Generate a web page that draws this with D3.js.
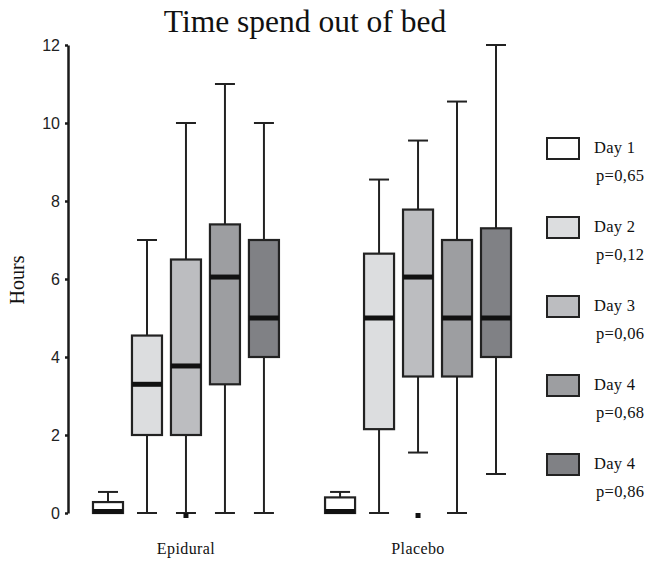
<!DOCTYPE html>
<html lang="en">
  <head>
    <meta charset="UTF-8" />
    <script src="https://d3js.org/d3.v7.min.js"></script>
    <title>Time spend out of bed</title>
    <style>
      body {
        margin: 0;
        background: #fff;
      }
      .axis path,
      .axis line {
        fill: none;
        stroke: #1a1a1a;
        stroke-width: 2.5;
      }
      .axis text {
        font-family: 'Liberation Sans', Arial, sans-serif;
        font-size: 16px;
        fill: #222;
      }
    </style>
  </head>
  <body>
    <script>
      // data: [lower whisker, Q1, median, Q3, upper whisker] per day
      var groups = ['Epidural', 'Placebo']
      var days = ['Day 1', 'Day 2', 'Day 3', 'Day 4', 'Day 5']
      var epiduralStats = [
        [0, 0, 0, 0.28, 0.54],
        [0, 2, 3.3, 4.55, 7],
        [0, 2, 3.77, 6.5, 10],
        [0, 3.3, 6.05, 7.4, 11],
        [0, 4, 5, 7, 10]
      ]
      var placeboStats = [
        [0, 0, 0, 0.4, 0.54],
        [0, 2.15, 5, 6.65, 8.55],
        [1.55, 3.5, 6.05, 7.78, 9.55],
        [0, 3.5, 5, 7, 10.55],
        [1, 4, 5, 7.3, 12]
      ]
      // outliers: [group, day index, value]
      var outliers = [
        ['Epidural', 2, 0],
        ['Placebo', 2, 0]
      ]
      var legendLabels = ['Day 1', 'Day 2', 'Day 3', 'Day 4', 'Day 4']
      var pValues = ['p=0,65', 'p=0,12', 'p=0,06', 'p=0,68', 'p=0,86']
      var yTicks = [0, 2, 4, 6, 8, 10, 12]
      var colors = ['#ffffff', '#dcdddf', '#bcbdc0', '#9d9ea1', '#808185']

      var width = 645
      var height = 561

      var svg = d3
        .select('body')
        .append('svg')
        .attr('width', width)
        .attr('height', height)

      var yScale = d3.scaleLinear().domain([0, 12]).range([513, 45])

      var xGroup = d3
        .scaleBand()
        .domain(groups)
        .range([88.5, 515.5])
        .paddingInner(0.16)

      var xDay = d3
        .scaleBand()
        .domain(d3.range(days.length))
        .range([0, xGroup.bandwidth()])
        .paddingInner(0.23)
        .paddingOuter(0.115)

      // title
      svg
        .append('text')
        .attr('x', 305)
        .attr('y', 32)
        .attr('text-anchor', 'middle')
        .attr('font-family', "'Liberation Serif', 'Times New Roman', serif")
        .attr('font-size', 31.5)
        .attr('fill', '#111')
        .text('Time spend out of bed')

      // y axis
      var yAxis = d3
        .axisLeft(yScale)
        .tickValues(yTicks)
        .tickSize(3)
        .tickSizeOuter(0)
        .tickPadding(5)

      svg
        .append('g')
        .attr('class', 'axis')
        .attr('transform', 'translate(68,0)')
        .call(yAxis)

      svg
        .append('text')
        .attr('transform', 'translate(24,280) rotate(-90)')
        .attr('text-anchor', 'middle')
        .attr('font-family', "'Liberation Serif', 'Times New Roman', serif")
        .attr('font-size', 20)
        .attr('fill', '#111')
        .text('Hours')

      // boxes
      var allStats = { Epidural: epiduralStats, Placebo: placeboStats }
      var capW = 20

      groups.forEach(function (g) {
        var gx = xGroup(g)
        var box = svg
          .append('g')
          .selectAll('g')
          .data(allStats[g])
          .enter()
          .append('g')
          .attr('transform', function (d, i) {
            return 'translate(' + (gx + xDay(i)) + ',0)'
          })

        var bw = xDay.bandwidth()

        // whiskers
        box
          .append('line')
          .attr('x1', bw / 2)
          .attr('x2', bw / 2)
          .attr('y1', function (d) {
            return yScale(d[3])
          })
          .attr('y2', function (d) {
            return yScale(d[4])
          })
          .attr('stroke', '#222')
          .attr('stroke-width', 2)

        box
          .filter(function (d) {
            return d[0] < d[1]
          })
          .append('line')
          .attr('x1', bw / 2)
          .attr('x2', bw / 2)
          .attr('y1', function (d) {
            return yScale(d[0])
          })
          .attr('y2', function (d) {
            return yScale(d[1])
          })
          .attr('stroke', '#222')
          .attr('stroke-width', 2)

        box
          .append('line')
          .attr('x1', bw / 2 - capW / 2)
          .attr('x2', bw / 2 + capW / 2)
          .attr('y1', function (d) {
            return yScale(d[4])
          })
          .attr('y2', function (d) {
            return yScale(d[4])
          })
          .attr('stroke', '#222')
          .attr('stroke-width', 2)

        box
          .filter(function (d) {
            return d[0] < d[1]
          })
          .append('line')
          .attr('x1', bw / 2 - capW / 2)
          .attr('x2', bw / 2 + capW / 2)
          .attr('y1', function (d) {
            return yScale(d[0])
          })
          .attr('y2', function (d) {
            return yScale(d[0])
          })
          .attr('stroke', '#222')
          .attr('stroke-width', 2)

        box
          .append('rect')
          .attr('x', 0)
          .attr('width', bw)
          .attr('y', function (d) {
            return yScale(d[3])
          })
          .attr('height', function (d) {
            return yScale(d[1]) - yScale(d[3])
          })
          .attr('fill', function (d, i) {
            return colors[i]
          })
          .attr('stroke', '#222')
          .attr('stroke-width', 2.2)

        box
          .append('line')
          .attr('x1', 0)
          .attr('x2', bw)
          .attr('y1', function (d) {
            return yScale(d[2]) - (d[2] === d[1] ? 1.5 : 0)
          })
          .attr('y2', function (d) {
            return yScale(d[2]) - (d[2] === d[1] ? 1.5 : 0)
          })
          .attr('stroke', '#111')
          .attr('stroke-width', 5)

        svg
          .append('text')
          .attr('x', gx + xGroup.bandwidth() / 2)
          .attr('y', 554)
          .attr('text-anchor', 'middle')
          .attr('font-family', "'Liberation Serif', 'Times New Roman', serif")
          .attr('font-size', 16)
          .attr('letter-spacing', 0.4)
          .attr('fill', '#111')
          .text(g)
      })

      // outliers
      svg
        .selectAll('rect.outlier')
        .data(outliers)
        .enter()
        .append('rect')
        .attr('class', 'outlier')
        .attr('x', function (d) {
          return xGroup(d[0]) + xDay(d[1]) + xDay.bandwidth() / 2 - 2.5
        })
        .attr('y', function (d) {
          return yScale(d[2])
        })
        .attr('width', 5)
        .attr('height', 5)
        .attr('fill', '#111')

      // legend
      var legend = svg
        .selectAll('g.legend')
        .data(legendLabels)
        .enter()
        .append('g')
        .attr('class', 'legend')
        .attr('transform', function (d, i) {
          return 'translate(547,' + (138 + i * 79) + ')'
        })

      legend
        .append('rect')
        .attr('width', 32)
        .attr('height', 21)
        .attr('fill', function (d, i) {
          return colors[i]
        })
        .attr('stroke', '#222')
        .attr('stroke-width', 2)

      legend
        .append('text')
        .attr('x', 47)
        .attr('y', 15)
        .attr('font-family', "'Liberation Serif', 'Times New Roman', serif")
        .attr('font-size', 16.5)
        .attr('letter-spacing', 0.3)
        .attr('fill', '#111')
        .text(function (d) {
          return d
        })

      legend
        .append('text')
        .attr('x', 49)
        .attr('y', 43)
        .attr('font-family', "'Liberation Serif', 'Times New Roman', serif")
        .attr('font-size', 16.5)
        .attr('letter-spacing', 0.3)
        .attr('fill', '#111')
        .text(function (d, i) {
          return pValues[i]
        })
    </script>
  </body>
</html>
